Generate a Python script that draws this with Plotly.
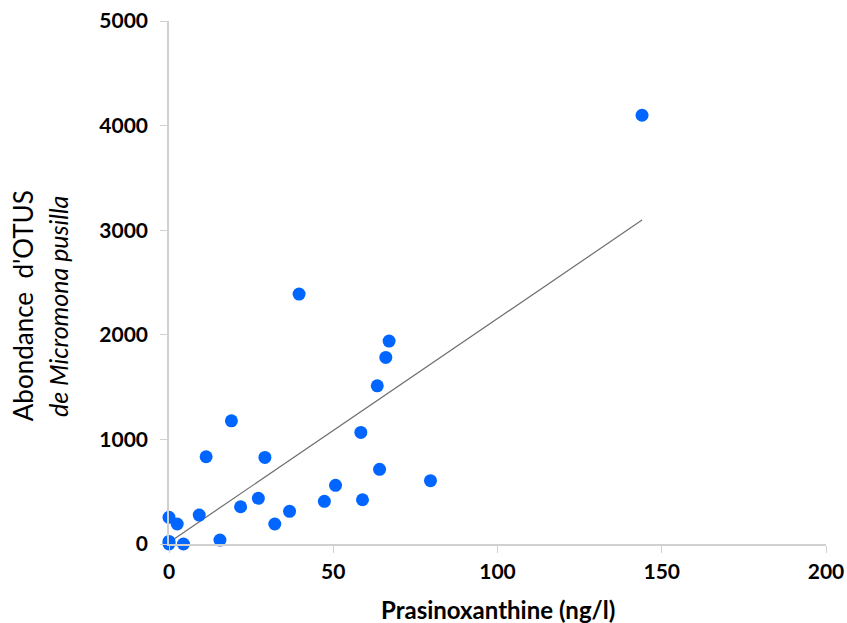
import plotly.graph_objects as go

# Prasinoxanthine concentration (ng/l) and Micromonas pusilla OTU abundance
prasinoxanthine = [0, 0, 0, 2.5, 4.4, 9.2, 11.3, 15.5, 19.0, 21.8, 27.2, 29.2,
                   32.2, 36.7, 39.6, 47.3, 50.7, 58.4, 58.9, 63.4, 64.1,
                   66.0, 67.0, 79.6, 144.0]
otus = [0, 25, 255, 191, 0, 277, 834, 38, 1178, 356, 437, 828,
        191, 312, 2389, 408, 561, 1067, 423, 1512, 714,
        1784, 1940, 605, 4099]

x_ticks = [0, 50, 100, 150, 200]
y_ticks = [0, 1000, 2000, 3000, 4000, 5000]

# Linear trend line coefficients (OTUs per ng/l, and offset)
trend_slope = 21.4
trend_intercept = 15

trend_x = [min(prasinoxanthine), max(prasinoxanthine)]
trend_y = [trend_intercept + trend_slope * v for v in trend_x]

fig = go.Figure()
fig.add_trace(go.Scatter(
    x=trend_x, y=trend_y, mode="lines",
    line=dict(color="#6e6e6e", width=1.2),
    hoverinfo="skip", showlegend=False,
))
fig.add_trace(go.Scatter(
    x=prasinoxanthine, y=otus, mode="markers",
    marker=dict(color="#0066ff", size=13, line=dict(width=0)),
    cliponaxis=False, showlegend=False,
))

axis_common = dict(
    showgrid=False, zeroline=False, showline=True,
    linecolor="#d0d0d0", linewidth=1.5,
    ticks="outside", ticklen=7, tickwidth=1.2, tickcolor="#d0d0d0",
    tickfont=dict(family="Lato", size=21, color="#000000", weight="bold"),
    automargin=False, ticklabeloverflow="allow",
)

fig.update_layout(
    width=847, height=623,
    margin=dict(l=169, r=21, t=21, b=79),
    paper_bgcolor="white", plot_bgcolor="white",
    xaxis=dict(range=[0, 200], tickvals=x_ticks, ticklabelstandoff=1,
               **axis_common),
    yaxis=dict(range=[0, 5000], tickvals=y_ticks, ticklabelstandoff=8,
               **axis_common),
    annotations=[
        dict(text="Prasinoxanthine (ng/l)", xref="paper", yref="paper",
             x=0.5, y=-0.125, xanchor="center", yanchor="middle",
             showarrow=False,
             font=dict(family="Lato", size=24, color="#000000", weight="bold")),
        dict(text="Abondance  d'OTUS", xref="paper", yref="paper",
             x=-0.222, y=0.455, xanchor="center", yanchor="middle",
             textangle=-90, showarrow=False,
             font=dict(family="Lato", size=26, color="#000000")),
        dict(text="<i>de Micromona pusilla</i>", xref="paper", yref="paper",
             x=-0.169, y=0.455, xanchor="center", yanchor="middle",
             textangle=-90, showarrow=False,
             font=dict(family="Lato", size=25, color="#000000")),
    ],
)

fig.write_html("out.html")
